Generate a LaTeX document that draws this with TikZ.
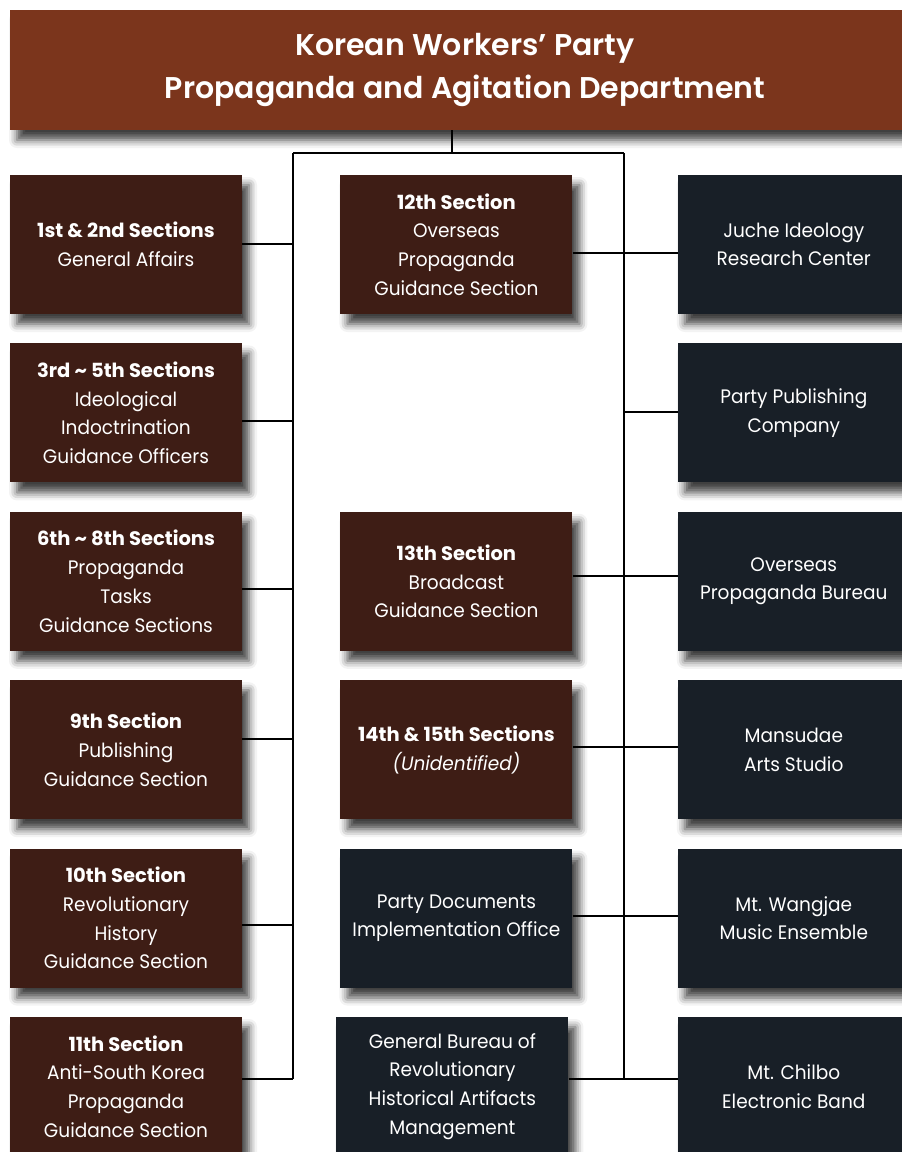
\documentclass[tikz,border=0pt]{standalone}
\usepackage{fontspec}
\setmainfont{Poppins}[BoldFont={Poppins Bold},
    UprightFeatures={FakeStretch=0.95}, ItalicFeatures={FakeStretch=0.95}]
\newfontfamily\headfont{Poppins}[BoldFont={Poppins SemiBold}]
\usetikzlibrary{positioning,shadows.blur}
\definecolor{titlebrown}{HTML}{7B351C}
\definecolor{secbrown}{HTML}{3E1D15}
\definecolor{officenavy}{HTML}{181F27}
\tikzset{
    orgbox/.style     = {rectangle, minimum width=232pt, minimum height=139pt, inner sep=0pt,
                         text=white, align=center, font=\fontsize{19.5}{28.7}\selectfont,
                         blur shadow={shadow xshift=7pt, shadow yshift=-10pt, shadow blur radius=8pt, shadow opacity=75}},
    sectionbox/.style = {orgbox, fill=secbrown},
    officebox/.style  = {orgbox, fill=officenavy},
    orgline/.style    = {black, -, line width=2.4pt},
}

\begin{document}
\begin{tikzpicture}[x=1pt, y=-1pt]
        \useasboundingbox (0,0) rectangle (902,1152);

        % department head
        \node[orgbox, fill=titlebrown, minimum width=910pt, minimum height=120pt,
              font=\headfont\bfseries\fontsize{30}{43}\selectfont] (title) at (465,70)
              {Korean Workers’ Party\\Propaganda and Agitation Department};

        % left column
        \node[sectionbox] (s1) at (126,244.5) {\textbf{1st \& 2nd Sections}\\General Affairs};
        \node[sectionbox, below=29pt of s1] (s3) {\textbf{3rd \textasciitilde{} 5th Sections}\\Ideological\\Indoctrination\\Guidance Officers};
        \node[sectionbox, below=29pt of s3] (s6) {\textbf{6th \textasciitilde{} 8th Sections}\\Propaganda\\Tasks\\Guidance Sections};
        \node[sectionbox, below=29pt of s6] (s9) {\textbf{9th Section}\\Publishing\\Guidance Section};
        \node[sectionbox, below=29pt of s9] (s10) {\textbf{10th Section}\\Revolutionary\\History\\Guidance Section};
        \node[sectionbox, below=29pt of s10] (s11) {\textbf{11th Section}\\Anti-South Korea\\Propaganda\\Guidance Section};

        % middle column
        \node[sectionbox, right=98pt of s1] (m12) {\textbf{12th Section}\\Overseas\\Propaganda\\Guidance Section};
        \node[sectionbox, right=98pt of s6] (m13) {\textbf{13th Section}\\Broadcast\\Guidance Section};
        \node[sectionbox, right=98pt of s9] (m14) {\textbf{14th \& 15th Sections}\\\textit{(Unidentified)}};
        \node[officebox, right=98pt of s10] (docs) {Party Documents\\Implementation Office};
        \node[officebox, right=94pt of s11] (bureau) {General Bureau of\\Revolutionary\\Historical Artifacts\\Management};

        % right column
        \node[officebox, right=105pt of m12] (juche) {Juche Ideology\\Research Center};
        \node[officebox, below=29pt of juche] (pub) {Party Publishing\\Company};
        \node[officebox, below=29pt of pub] (bureauos) {Overseas\\Propaganda Bureau};
        \node[officebox, below=29pt of bureauos] (mansudae) {Mansudae\\Arts Studio};
        \node[officebox, below=29pt of mansudae] (wangjae) {Mt. Wangjae\\Music Ensemble};
        \node[officebox, below=29pt of wangjae] (chilbo) {Mt. Chilbo\\Electronic Band};

        % buses
        \coordinate (top) at (452,153);
        \coordinate (lbus) at (293,153);
        \coordinate (rbus) at (624,153);
        \draw[orgline] (title.south -| top) -- (top);
        \draw[orgline] (lbus) -- (rbus);
        \draw[orgline] (lbus) -- (lbus |- 0,1079);
        \draw[orgline] (rbus) -- (rbus |- 0,1079);

        \foreach \nm/\yy in {s1/244, s3/421, s6/589, s9/739, s10/925, s11/1079}
            \draw[orgline] (\nm.east |- 0,\yy) -- (lbus |- 0,\yy);
        \foreach \fr/\to/\yy in {m12/juche/253, m13/bureauos/576, m14/mansudae/747, docs/wangjae/916, bureau/chilbo/1079}
            \draw[orgline] (\fr.east |- 0,\yy) -- (\to.west |- 0,\yy);
        \draw[orgline] (rbus |- 0,412) -- (pub.west |- 0,412);
\end{tikzpicture}
\end{document}
